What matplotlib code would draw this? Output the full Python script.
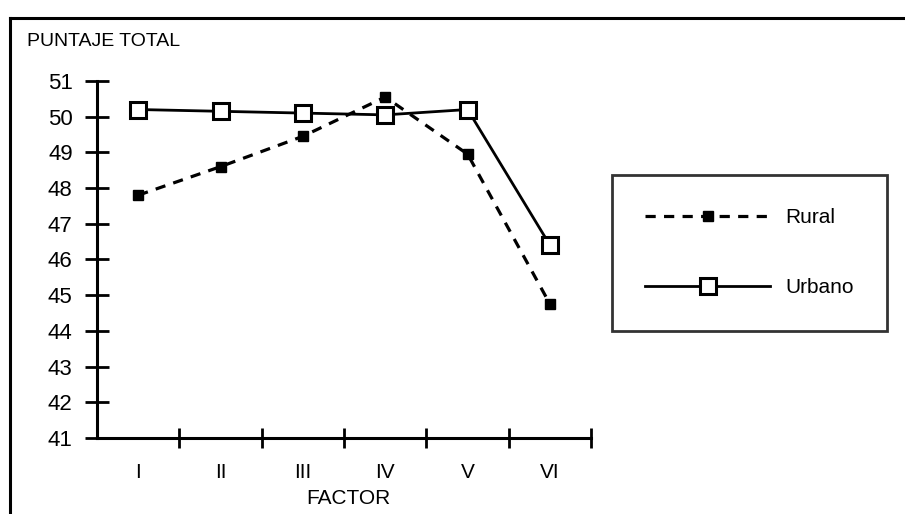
import matplotlib.pyplot as plt
from matplotlib.lines import Line2D
import numpy as np

# datos
factores = ["I", "II", "III", "IV", "V", "VI"]
rural = [47.8, 48.6, 49.45, 50.55, 48.95, 44.75]
urbano = [50.2, 50.15, 50.1, 50.05, 50.2, 46.4]
y_ticks = list(range(41, 52))

plt.rcParams["font.family"] = ["Liberation Sans", "DejaVu Sans"]

fig = plt.figure(figsize=(9.05, 5.14), dpi=100)
fig.patch.set_facecolor("white")
ax = fig.add_axes([0.1072, 0.1479, 0.546, 0.6946])

x = np.arange(1, len(factores) + 1)
ax.plot(x, rural, color="black", lw=2.3, linestyle=(0, (3.2, 2.6)),
        marker="s", markersize=6.5, markerfacecolor="black",
        markeredgecolor="black", label="Rural")
ax.plot(x, urbano, color="black", lw=2.0, marker="s", markersize=11,
        markerfacecolor="white", markeredgecolor="black", markeredgewidth=2.2,
        label="Urbano")

ax.set_xlim(0.5, len(factores) + 0.5)
ax.set_ylim(41, 51)

# ejes estilo libro
for side in ["top", "right"]:
    ax.spines[side].set_visible(False)
for side in ["left", "bottom"]:
    ax.spines[side].set_linewidth(2.2)

ax.set_yticks(y_ticks)
ax.tick_params(axis="y", direction="inout", length=17, width=2.0,
               labelsize=16, pad=9)
ax.set_xticks(x)
ax.set_xticklabels(factores)
ax.set_xticks(np.arange(1.5, len(factores) + 1, 1.0), minor=True)
ax.tick_params(axis="x", which="major", length=0, labelsize=15, pad=18)
ax.tick_params(axis="x", which="minor", direction="inout", length=15, width=2.0)

fig.text(27 / 905, 1 - 42 / 514, "PUNTAJE TOTAL", fontsize=14,
         ha="left", va="center")
fig.text(348 / 905, 1 - 499 / 514, "FACTOR", fontsize=15,
         ha="center", va="center")

leg = ax.legend(loc="upper left", bbox_to_anchor=(612 / 905, 1 - 175 / 514),
                bbox_transform=fig.transFigure, fontsize=15, frameon=True,
                fancybox=False, edgecolor="black", handlelength=6.0,
                handletextpad=0.7, labelspacing=2.45, borderpad=1.6,
                numpoints=1, borderaxespad=0)
leg.get_frame().set_linewidth(2.0)

# marco exterior de la figura
fig.add_artist(Line2D([10 / 905, 10 / 905], [0, 1 - 18 / 514],
                      transform=fig.transFigure, color="black", lw=2.2))
fig.add_artist(Line2D([10 / 905, 1], [1 - 18 / 514, 1 - 18 / 514],
                      transform=fig.transFigure, color="black", lw=2.2))

plt.savefig("out.png", dpi=100)
plt.close()
